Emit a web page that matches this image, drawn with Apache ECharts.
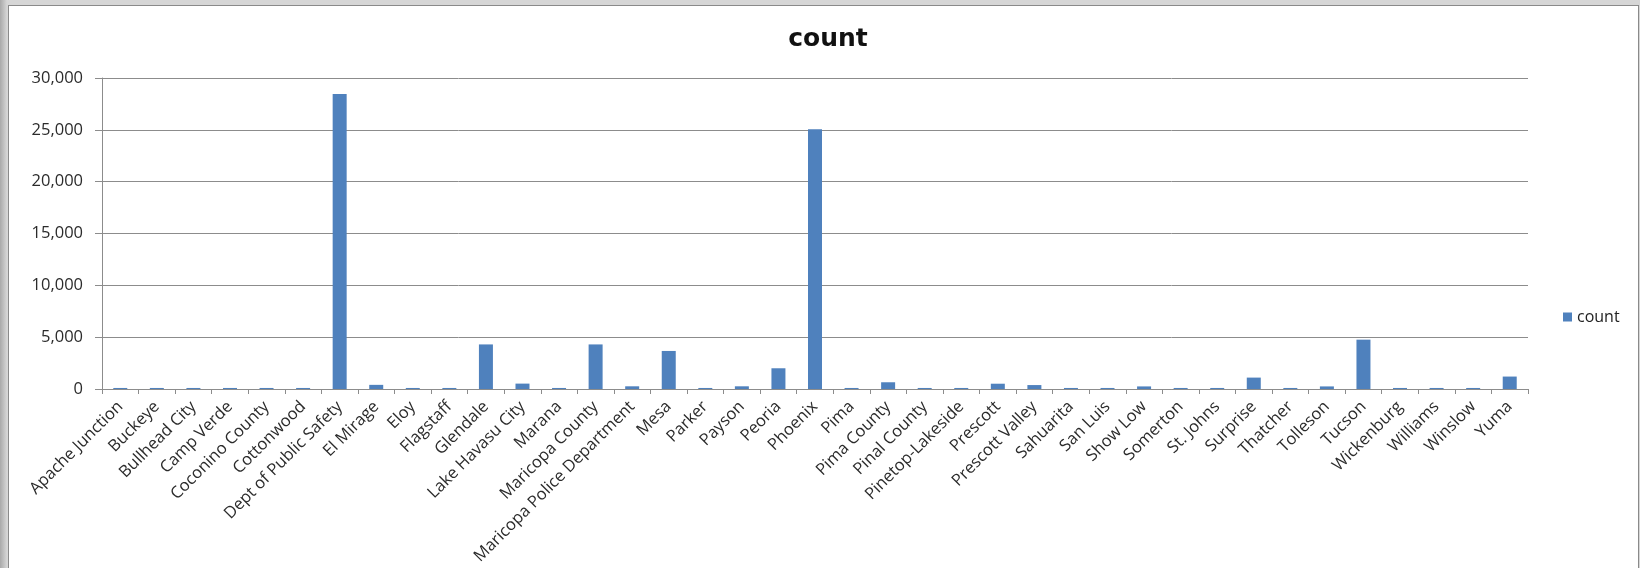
<!DOCTYPE html>
<html>
<head>
<meta charset="utf-8">
<script src="https://cdn.jsdelivr.net/npm/echarts@6/dist/echarts.min.js"></script>
<style>
  html, body { margin: 0; padding: 0; width: 1640px; height: 568px; overflow: hidden; }
  body { background: linear-gradient(to right, #a9a9a9 0px, #d6d6d6 7px, #d6d6d6 100%); }
  #frame { position: absolute; left: 8px; top: 5px; width: 1629px; height: 620px; background: #ffffff; border: 1px solid #8a8a8a; }
  #chart { position: absolute; left: 0; top: 0; width: 1640px; height: 568px; }
</style>
</head>
<body>
<div id="frame"></div>
<div id="chart"></div>
<script>
const categories = [
  "Apache Junction", "Buckeye", "Bullhead City", "Camp Verde", "Coconino County", "Cottonwood",
  "Dept of Public Safety", "El Mirage", "Eloy", "Flagstaff", "Glendale", "Lake Havasu City",
  "Marana", "Maricopa County", "Maricopa Police Department", "Mesa", "Parker", "Payson",
  "Peoria", "Phoenix", "Pima", "Pima County", "Pinal County", "Pinetop-Lakeside", "Prescott",
  "Prescott Valley", "Sahuarita", "San Luis", "Show Low", "Somerton", "St. Johns", "Surprise",
  "Thatcher", "Tolleson", "Tucson", "Wickenburg", "Williams", "Winslow", "Yuma"
];
const countValues = [
  100, 100, 100, 100, 100, 100,
  28450, 400, 100, 100, 4300, 520,
  100, 4300, 260, 3670, 100, 260,
  2000, 25050, 100, 650, 100, 100, 510,
  380, 100, 100, 250, 100, 100, 1100,
  100, 250, 4760, 100, 100, 100, 1200
];
const yTicks = { min: 0, max: 30000, interval: 5000 };

const chart = echarts.init(document.getElementById('chart'), null, { renderer: 'canvas' });
const labelFont = 'Open Sans';
chart.setOption({
  backgroundColor: 'transparent',
  animation: false,
  title: {
    text: 'count',
    left: 823,
    top: 22,
    textAlign: 'center',
    textStyle: { fontFamily: 'DejaVu Sans', fontWeight: 'bold', fontSize: 25, color: '#111111' }
  },
  legend: {
    data: ['count'],
    orient: 'vertical',
    left: 1558,
    top: 304,
    itemWidth: 9,
    itemHeight: 9,
    itemGap: 8,
    icon: 'rect',
    textStyle: { fontFamily: labelFont, fontSize: 16, color: '#222222' }
  },
  grid: { left: 102, right: 112, top: 78, bottom: 179, containLabel: false },
  xAxis: {
    type: 'category',
    data: categories,
    boundaryGap: true,
    axisLine: { lineStyle: { color: '#8c8c8c', width: 1 } },
    axisTick: { show: true, length: 5, lineStyle: { color: '#8c8c8c' } },
    axisLabel: {
      interval: 0,
      rotate: 45,
      margin: 15,
      fontFamily: labelFont,
      fontSize: 16.5,
      color: '#2b2b2b'
    }
  },
  yAxis: {
    type: 'value',
    min: yTicks.min,
    max: yTicks.max,
    interval: yTicks.interval,
    axisLine: { show: true, lineStyle: { color: '#8c8c8c', width: 1 } },
    axisTick: { show: true, length: 7, lineStyle: { color: '#8c8c8c' } },
    splitLine: { show: true, lineStyle: { color: '#8c8c8c', width: 1 } },
    axisLabel: {
      margin: 19,
      fontFamily: labelFont,
      fontSize: 16.5,
      color: '#2b2b2b',
      formatter: v => v.toLocaleString('en-US')
    }
  },
  series: [{
    name: 'count',
    type: 'bar',
    data: countValues,
    barWidth: 14,
    itemStyle: { color: '#4f81bd' }
  }]
});
</script>
</body>
</html>
